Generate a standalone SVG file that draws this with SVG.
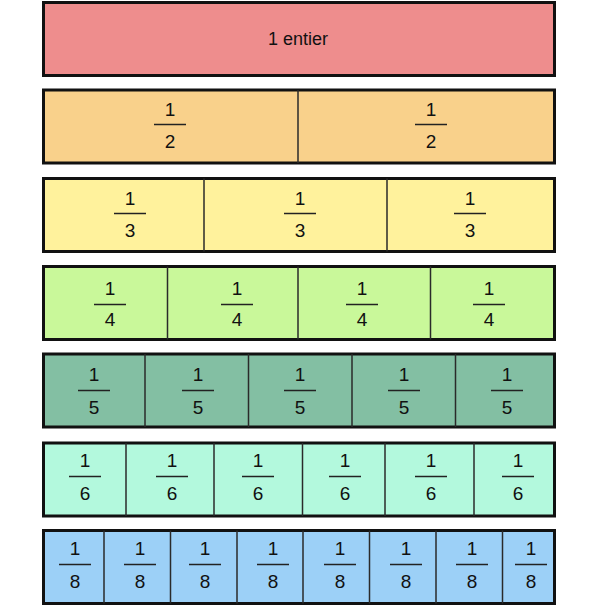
<svg xmlns="http://www.w3.org/2000/svg" width="593" height="606" viewBox="0 0 593 606">
<style>
.bar{stroke:#111;stroke-width:3}
.div{stroke:#2a2a2a;stroke-width:1.5}
.fl{stroke:#222;stroke-width:1.5}
text{font-family:"Liberation Sans",Arial,sans-serif;font-size:19px;fill:#111;text-anchor:middle}
</style>
<rect width="593" height="606" fill="#fff"/>
<g id="row-entier">
<rect class="bar" x="43.5" y="2.5" width="511" height="73" fill="#EE8D8D"/>
<text x="298" y="45" style="font-size:18px">1 entier</text>
</g>
<g id="row-demis">
<rect class="bar" x="43.5" y="90" width="511" height="73" fill="#F9D18B"/>
<line class="div" x1="298" y1="90" x2="298" y2="163"/>
<g><text x="170" y="115.5">1</text><line class="fl" x1="154" y1="124.5" x2="186" y2="124.5"/><text x="170" y="147.5">2</text></g>
<g><text x="431" y="115.5">1</text><line class="fl" x1="415" y1="124.5" x2="447" y2="124.5"/><text x="431" y="147.5">2</text></g>
</g>
<g id="row-tiers">
<rect class="bar" x="43.5" y="178.5" width="511" height="73" fill="#FFF29C"/>
<line class="div" x1="204" y1="178.5" x2="204" y2="251.5"/>
<line class="div" x1="387" y1="178.5" x2="387" y2="251.5"/>
<g><text x="130" y="204.5">1</text><line class="fl" x1="114" y1="213.5" x2="146" y2="213.5"/><text x="130" y="236.5">3</text></g>
<g><text x="300" y="204.5">1</text><line class="fl" x1="284" y1="213.5" x2="316" y2="213.5"/><text x="300" y="236.5">3</text></g>
<g><text x="470" y="204.5">1</text><line class="fl" x1="454" y1="213.5" x2="486" y2="213.5"/><text x="470" y="236.5">3</text></g>
</g>
<g id="row-quarts">
<rect class="bar" x="43.5" y="266.5" width="511" height="73" fill="#C9F89A"/>
<line class="div" x1="167.5" y1="266.5" x2="167.5" y2="339.5"/>
<line class="div" x1="298" y1="266.5" x2="298" y2="339.5"/>
<line class="div" x1="430.5" y1="266.5" x2="430.5" y2="339.5"/>
<g><text x="110" y="295">1</text><line class="fl" x1="94" y1="304.5" x2="126" y2="304.5"/><text x="110" y="325.5">4</text></g>
<g><text x="237" y="295">1</text><line class="fl" x1="221" y1="304.5" x2="253" y2="304.5"/><text x="237" y="325.5">4</text></g>
<g><text x="362" y="295">1</text><line class="fl" x1="346" y1="304.5" x2="378" y2="304.5"/><text x="362" y="325.5">4</text></g>
<g><text x="489" y="295">1</text><line class="fl" x1="473" y1="304.5" x2="505" y2="304.5"/><text x="489" y="325.5">4</text></g>
</g>
<g id="row-cinquiemes">
<rect class="bar" x="43.5" y="354" width="511" height="73" fill="#83BFA3"/>
<line class="div" x1="145" y1="354" x2="145" y2="427"/>
<line class="div" x1="248.5" y1="354" x2="248.5" y2="427"/>
<line class="div" x1="352" y1="354" x2="352" y2="427"/>
<line class="div" x1="455.5" y1="354" x2="455.5" y2="427"/>
<g><text x="94" y="381">1</text><line class="fl" x1="78" y1="390.5" x2="110" y2="390.5"/><text x="94" y="413.5">5</text></g>
<g><text x="198" y="381">1</text><line class="fl" x1="182" y1="390.5" x2="214" y2="390.5"/><text x="198" y="413.5">5</text></g>
<g><text x="300" y="381">1</text><line class="fl" x1="284" y1="390.5" x2="316" y2="390.5"/><text x="300" y="413.5">5</text></g>
<g><text x="404" y="381">1</text><line class="fl" x1="388" y1="390.5" x2="420" y2="390.5"/><text x="404" y="413.5">5</text></g>
<g><text x="507" y="381">1</text><line class="fl" x1="491" y1="390.5" x2="523" y2="390.5"/><text x="507" y="413.5">5</text></g>
</g>
<g id="row-sixiemes">
<rect class="bar" x="43.5" y="443" width="511" height="73" fill="#B3F9DD"/>
<line class="div" x1="126" y1="443" x2="126" y2="516"/>
<line class="div" x1="214" y1="443" x2="214" y2="516"/>
<line class="div" x1="302.5" y1="443" x2="302.5" y2="516"/>
<line class="div" x1="385" y1="443" x2="385" y2="516"/>
<line class="div" x1="474" y1="443" x2="474" y2="516"/>
<g><text x="85" y="467">1</text><line class="fl" x1="69" y1="476.5" x2="101" y2="476.5"/><text x="85" y="499.5">6</text></g>
<g><text x="172" y="467">1</text><line class="fl" x1="156" y1="476.5" x2="188" y2="476.5"/><text x="172" y="499.5">6</text></g>
<g><text x="258" y="467">1</text><line class="fl" x1="242" y1="476.5" x2="274" y2="476.5"/><text x="258" y="499.5">6</text></g>
<g><text x="345" y="467">1</text><line class="fl" x1="329" y1="476.5" x2="361" y2="476.5"/><text x="345" y="499.5">6</text></g>
<g><text x="431" y="467">1</text><line class="fl" x1="415" y1="476.5" x2="447" y2="476.5"/><text x="431" y="499.5">6</text></g>
<g><text x="518" y="467">1</text><line class="fl" x1="502" y1="476.5" x2="534" y2="476.5"/><text x="518" y="499.5">6</text></g>
</g>
<g id="row-huitiemes">
<rect class="bar" x="43.5" y="530.5" width="511" height="73" fill="#9CD0F7"/>
<line class="div" x1="104" y1="530.5" x2="104" y2="603.5"/>
<line class="div" x1="170.5" y1="530.5" x2="170.5" y2="603.5"/>
<line class="div" x1="237" y1="530.5" x2="237" y2="603.5"/>
<line class="div" x1="303" y1="530.5" x2="303" y2="603.5"/>
<line class="div" x1="369.5" y1="530.5" x2="369.5" y2="603.5"/>
<line class="div" x1="436" y1="530.5" x2="436" y2="603.5"/>
<line class="div" x1="502.5" y1="530.5" x2="502.5" y2="603.5"/>
<g><text x="75" y="555">1</text><line class="fl" x1="59" y1="564.5" x2="91" y2="564.5"/><text x="75" y="587.5">8</text></g>
<g><text x="140" y="555">1</text><line class="fl" x1="124" y1="564.5" x2="156" y2="564.5"/><text x="140" y="587.5">8</text></g>
<g><text x="205" y="555">1</text><line class="fl" x1="189" y1="564.5" x2="221" y2="564.5"/><text x="205" y="587.5">8</text></g>
<g><text x="273" y="555">1</text><line class="fl" x1="257" y1="564.5" x2="289" y2="564.5"/><text x="273" y="587.5">8</text></g>
<g><text x="340" y="555">1</text><line class="fl" x1="324" y1="564.5" x2="356" y2="564.5"/><text x="340" y="587.5">8</text></g>
<g><text x="406" y="555">1</text><line class="fl" x1="390" y1="564.5" x2="422" y2="564.5"/><text x="406" y="587.5">8</text></g>
<g><text x="472" y="555">1</text><line class="fl" x1="456" y1="564.5" x2="488" y2="564.5"/><text x="472" y="587.5">8</text></g>
<g><text x="531" y="555">1</text><line class="fl" x1="515" y1="564.5" x2="547" y2="564.5"/><text x="531" y="587.5">8</text></g>
</g>
</svg>
